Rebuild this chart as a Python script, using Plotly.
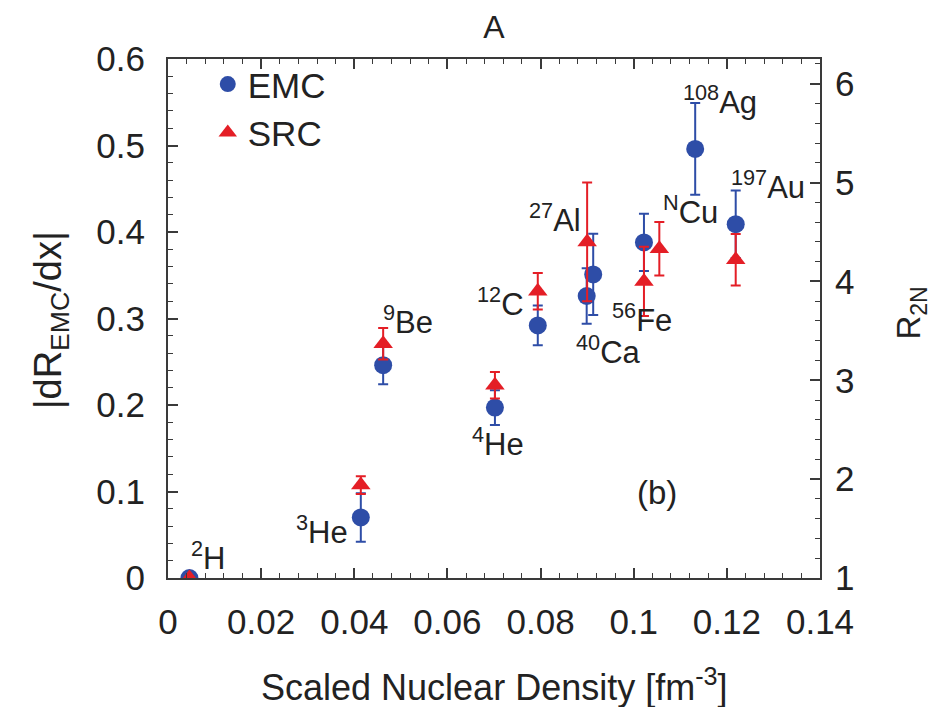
import plotly.graph_objects as go

# ---- data ----
emc_nuclei = ["2H", "3He", "9Be", "4He", "12C", "27Al", "40Ca", "56Fe", "108Ag", "197Au"]
emc_density = [0.0046, 0.0414, 0.0462, 0.0702, 0.0794, 0.0899, 0.0913, 0.1022, 0.1132, 0.1219]
emc_slope = [0.0, 0.070, 0.246, 0.197, 0.292, 0.326, 0.351, 0.388, 0.496, 0.409]
emc_err = [0.0, 0.028, 0.022, 0.020, 0.023, 0.032, 0.047, 0.033, 0.053, 0.039]

src_nuclei = ["2H", "3He", "9Be", "4He", "12C", "27Al", "56Fe", "NCu", "197Au"]
src_density = [0.0046, 0.0414, 0.0462, 0.0702, 0.0794, 0.0900, 0.1022, 0.1055, 0.1219]
src_r2n = [1.0, 1.94, 3.37, 2.95, 3.90, 4.40, 4.00, 4.33, 4.22]
src_err = [0.0, 0.09, 0.16, 0.135, 0.185, 0.60, 0.35, 0.27, 0.26]

# nucleus labels: (mass number, symbol, x, y) in data units of the left axis
label_mass = ["2", "3", "9", "4", "12", "27", "40", "56", "N", "108", "197"]
label_sym = ["H", "He", "Be", "He", "C", "Al", "Ca", "Fe", "Cu", "Ag", "Au"]
label_x = [0.0086, 0.0331, 0.0515, 0.0709, 0.0713, 0.0831, 0.0945, 0.1018, 0.1121, 0.1185, 0.1288]
label_y = [0.0254, 0.0555, 0.298, 0.157, 0.319, 0.416, 0.2636, 0.3006, 0.4254, 0.5526, 0.4543]

x_ticks = [0, 0.02, 0.04, 0.06, 0.08, 0.1, 0.12, 0.14]
y_ticks = [0, 0.1, 0.2, 0.3, 0.4, 0.5, 0.6]
y2_ticks = [1, 2, 3, 4, 5, 6]

BLUE = "#2E4DA7"
RED = "#E41E26"
TXT = "#222222"
AX = "#3a3a3a"
FONT = "Liberation Sans, Arial, Helvetica, sans-serif"

fig = go.Figure()
fig.add_trace(go.Scatter(
    x=emc_density, y=emc_slope, mode="markers", name="EMC",
    marker=dict(symbol="circle", size=18, color=BLUE),
    error_y=dict(type="data", array=emc_err, visible=True, color=BLUE, thickness=2, width=5),
    yaxis="y",
))
fig.add_trace(go.Scatter(
    x=src_density, y=src_r2n, mode="markers", name="SRC",
    marker=dict(symbol="triangle-up", size=17, color=RED),
    error_y=dict(type="data", array=src_err, visible=True, color=RED, thickness=2, width=5),
    yaxis="y2",
))

annotations = []
for m, s, lx, ly in zip(label_mass, label_sym, label_x, label_y):
    annotations.append(dict(
        x=lx, y=ly, xref="x", yref="y", text=f"<sup>{m}</sup>{s}",
        showarrow=False, font=dict(size=31, color=TXT, family=FONT),
        xanchor="center", yanchor="middle",
    ))
annotations.append(dict(x=0.105, y=0.0994, xref="x", yref="y", text="(b)", showarrow=False,
                        font=dict(size=33, color=TXT, family=FONT)))
annotations.append(dict(x=0.5, y=-0.206, xref="paper", yref="paper",
                        text="Scaled Nuclear Density [fm<sup>-3</sup>]", showarrow=False,
                        font=dict(size=36, color=TXT, family=FONT), xanchor="center", yanchor="middle"))
annotations.append(dict(x=-0.179, y=0.497, xref="paper", yref="paper",
                        text="|dR<sub>EMC</sub>/dx|", showarrow=False, textangle=-90,
                        font=dict(size=38, color=TXT, family=FONT), xanchor="center", yanchor="middle"))
annotations.append(dict(x=1.14, y=0.51, xref="paper", yref="paper",
                        text="R<sub>2N</sub>", showarrow=False, textangle=-90,
                        font=dict(size=33, color=TXT, family=FONT), xanchor="center", yanchor="middle"))

axis_common = dict(showline=True, linecolor=AX, linewidth=2, ticks="inside", ticklen=10,
                   tickwidth=1.5, tickcolor=AX, showgrid=False, zeroline=False,
                   tickfont=dict(size=35, color=TXT, family=FONT))

fig.update_layout(
    width=950, height=707,
    margin=dict(l=168, r=130, t=59, b=129),
    paper_bgcolor="white", plot_bgcolor="white",
    title=dict(text="A", x=0.5, xref="paper", y=0.962, yanchor="middle", xanchor="center",
               font=dict(size=32, color=TXT, family=FONT)),
    xaxis=dict(range=[0, 0.14], tickvals=x_ticks, mirror="ticks",
               minor=dict(dtick=0.004, ticks="inside", ticklen=5, tickcolor=AX, tickwidth=1.2),
               ticklabelstandoff=12, **axis_common),
    yaxis=dict(range=[0, 0.6], tickvals=y_ticks,
               minor=dict(dtick=0.02, ticks="inside", ticklen=5, tickcolor=AX, tickwidth=1.2),
               ticklabelstandoff=14, **axis_common),
    yaxis2=dict(range=[1, 6.25], tickvals=y2_ticks, overlaying="y", side="right",
                minor=dict(dtick=0.2, ticks="inside", ticklen=5, tickcolor=AX, tickwidth=1.2),
                ticklabelstandoff=6, **axis_common),
    legend=dict(x=0.061, y=1.008, xanchor="left", yanchor="top", bgcolor="rgba(0,0,0,0)",
                font=dict(size=35, color=TXT, family=FONT), tracegroupgap=0),
    annotations=annotations,
    showlegend=True,
)

fig.write_html("out.html")
